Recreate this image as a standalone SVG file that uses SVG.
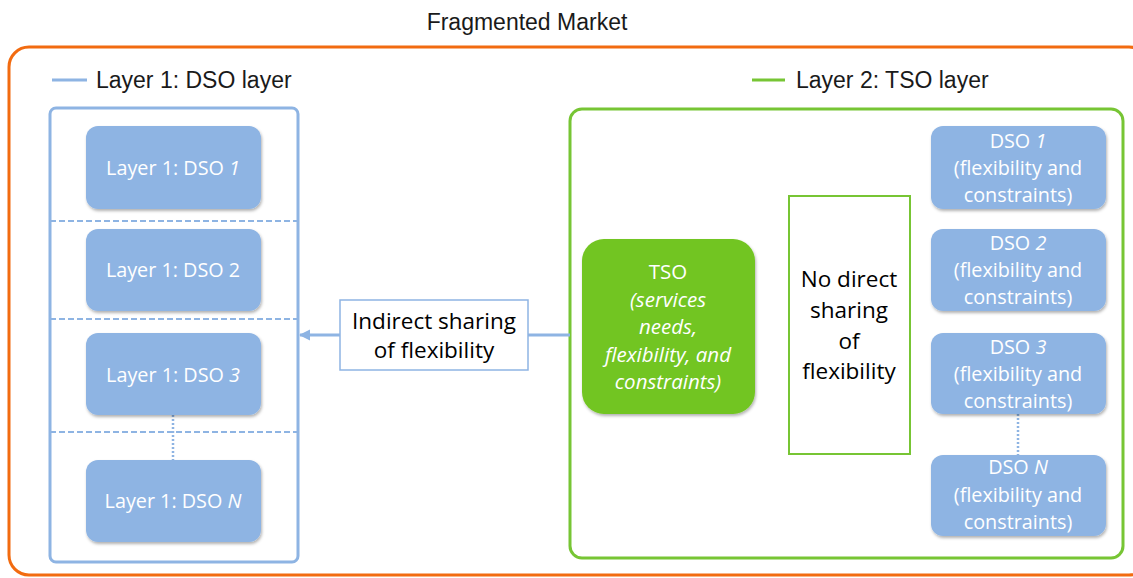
<svg xmlns="http://www.w3.org/2000/svg" width="1133" height="578" viewBox="0 0 1133 578">
<defs>
<filter id="sh" x="-10%" y="-10%" width="125%" height="130%">
<feDropShadow dx="1" dy="2" stdDeviation="1.5" flood-color="#000" flood-opacity="0.3"/>
</filter>
<marker id="arr" markerWidth="12" markerHeight="12" refX="10" refY="5.5" orient="auto" markerUnits="userSpaceOnUse">
<path d="M0,0 L11,5.5 L0,11 Z" fill="#8EB4E3"/>
</marker>
</defs>
<style>
.ar{font-family:"Liberation Sans",Arial,sans-serif;font-size:23px;fill:#1a1a1a}
.cal{font-family:"Open Sans","Noto Sans",sans-serif;text-anchor:middle}
.wt{fill:#fff;font-size:19.8px}
.tw{fill:#fff;font-size:20.5px}
.bk{fill:#000;font-size:22.5px}
.dso{fill:#8EB4E3;filter:url(#sh)}
.sep{stroke:#8EB4E3;stroke-width:2;stroke-dasharray:6,3;fill:none}
.dot{stroke:#8EB4E3;stroke-width:2.5;stroke-dasharray:2,2;fill:none}
</style>
<rect width="1133" height="578" fill="#fff"/>
<text class="ar" x="527" y="30" text-anchor="middle">Fragmented Market</text>
<rect id="market" x="9" y="47" width="1140" height="528" rx="20" fill="none" stroke="#F26B10" stroke-width="3"/>

<g id="legend1">
<line x1="52" y1="80" x2="87" y2="80" stroke="#8EB4E3" stroke-width="3"/>
<text class="ar" x="96" y="88">Layer 1: DSO layer</text>
</g>
<g id="legend2">
<line x1="752" y1="80" x2="785" y2="80" stroke="#77C534" stroke-width="3"/>
<text class="ar" x="796" y="88">Layer 2: TSO layer</text>
</g>

<g id="dso-layer">
<rect x="50" y="108" width="248" height="454" rx="6" fill="none" stroke="#8EB4E3" stroke-width="3"/>
<line class="sep" x1="50" y1="221" x2="298" y2="221"/>
<line class="sep" x1="50" y1="319" x2="298" y2="319"/>
<line class="sep" x1="50" y1="432" x2="298" y2="432"/>
</g>

<g id="tso-layer">
<rect x="570" y="109" width="553" height="449" rx="12" fill="none" stroke="#77C534" stroke-width="3"/>
</g>

<g id="connectors">
<line x1="570" y1="335" x2="528" y2="335" stroke="#8EB4E3" stroke-width="3"/>
<line x1="340" y1="335" x2="300" y2="335" stroke="#8EB4E3" stroke-width="3" marker-end="url(#arr)"/>
<line class="dot" x1="173" y1="415" x2="173" y2="460"/>
<line class="dot" x1="1018" y1="414" x2="1018" y2="455"/>
</g>

<g id="l1-dso1">
<rect class="dso" x="86" y="126" width="175" height="83" rx="12"/>
<text class="cal wt" x="173" y="175">Layer 1: DSO <tspan font-style="italic">1</tspan></text>
</g>
<g id="l1-dso2">
<rect class="dso" x="86" y="229" width="175" height="82" rx="12"/>
<text class="cal wt" x="173" y="277">Layer 1: DSO 2</text>
</g>
<g id="l1-dso3">
<rect class="dso" x="86" y="333" width="175" height="82" rx="12"/>
<text class="cal wt" x="173" y="382">Layer 1: DSO <tspan font-style="italic">3</tspan></text>
</g>
<g id="l1-dson">
<rect class="dso" x="86" y="460" width="175" height="82" rx="12"/>
<text class="cal wt" x="173" y="508">Layer 1: DSO <tspan font-style="italic">N</tspan></text>
</g>

<g id="indirect">
<rect x="340" y="300" width="188" height="70" fill="#fff" stroke="#8EB4E3" stroke-width="1.5"/>
<text class="cal bk" x="434" y="329">Indirect sharing</text>
<text class="cal bk" x="434" y="358">of flexibility</text>
</g>

<g id="tso">
<rect x="582" y="239" width="173" height="175" rx="22" fill="#72C520" filter="url(#sh)"/>
<text class="cal tw" x="668" y="279">TSO</text>
<text class="cal tw" x="668" y="307" font-style="italic">(services</text>
<text class="cal tw" x="668" y="334" font-style="italic">needs,</text>
<text class="cal tw" x="668" y="362" font-style="italic">flexibility, and</text>
<text class="cal tw" x="668" y="389" font-style="italic">constraints)</text>
</g>

<g id="nodirect">
<rect x="789" y="196" width="121" height="258" fill="#fff" stroke="#77C534" stroke-width="2"/>
<text class="cal bk" x="849" y="287">No direct</text>
<text class="cal bk" x="849" y="318">sharing</text>
<text class="cal bk" x="849" y="349">of</text>
<text class="cal bk" x="849" y="379">flexibility</text>
</g>

<g id="r-dso1">
<rect class="dso" x="931" y="126" width="175" height="83" rx="12"/>
<text class="cal wt" x="1018" y="148">DSO <tspan font-style="italic">1</tspan></text>
<text class="cal wt" x="1018" y="175">(flexibility and</text>
<text class="cal wt" x="1018" y="202">constraints)</text>
</g>
<g id="r-dso2">
<rect class="dso" x="931" y="229" width="175" height="82" rx="12"/>
<text class="cal wt" x="1018" y="250">DSO <tspan font-style="italic">2</tspan></text>
<text class="cal wt" x="1018" y="277">(flexibility and</text>
<text class="cal wt" x="1018" y="304">constraints)</text>
</g>
<g id="r-dso3">
<rect class="dso" x="931" y="333" width="175" height="81" rx="12"/>
<text class="cal wt" x="1018" y="354">DSO <tspan font-style="italic">3</tspan></text>
<text class="cal wt" x="1018" y="381">(flexibility and</text>
<text class="cal wt" x="1018" y="408">constraints)</text>
</g>
<g id="r-dson">
<rect class="dso" x="931" y="455" width="175" height="81" rx="12"/>
<text class="cal wt" x="1018" y="474">DSO <tspan font-style="italic">N</tspan></text>
<text class="cal wt" x="1018" y="502">(flexibility and</text>
<text class="cal wt" x="1018" y="529">constraints)</text>
</g>
</svg>
